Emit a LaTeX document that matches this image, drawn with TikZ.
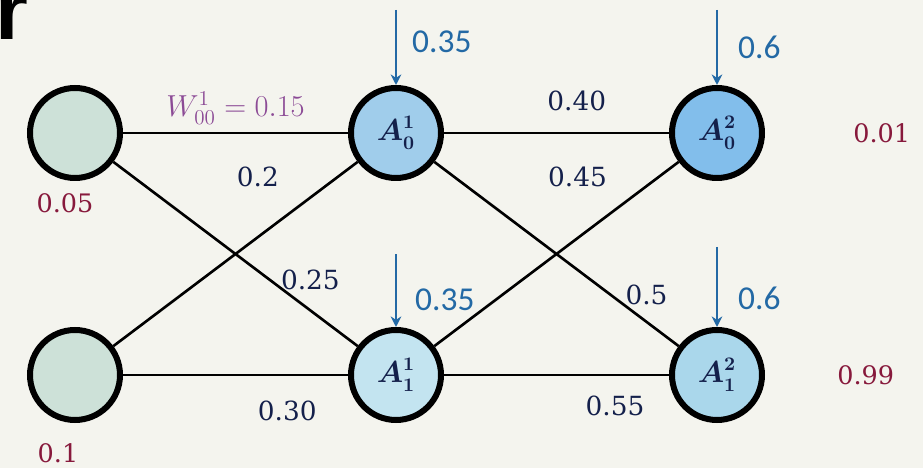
\documentclass[tikz,border=0pt]{standalone}
\usepackage{fontspec}
\usetikzlibrary{arrows.meta, positioning}
\newfontfamily\numfont{DejaVu Serif}
\newfontfamily\biasfont{Carlito}
\newfontfamily\headfont{Liberation Sans}
\definecolor{paper}{RGB}{244,244,238}
\definecolor{navy}{RGB}{20,32,75}
\definecolor{biasblue}{RGB}{35,105,165}
\definecolor{maroon}{RGB}{135,25,60}
\definecolor{mauve}{RGB}{140,75,150}
\definecolor{infill}{RGB}{205,225,216}
\definecolor{hzfill}{RGB}{160,205,235}
\definecolor{hofill}{RGB}{195,228,240}
\definecolor{ozfill}{RGB}{130,190,235}
\definecolor{oofill}{RGB}{170,215,235}

\begin{document}
\begin{tikzpicture}[
  node distance=2.92cm and 4.5cm,
  neuron/.style={draw, circle, line width=0.12cm, minimum size=1.8cm, inner sep=0pt, text=navy, font=\fontsize{16}{19}\selectfont\boldmath},
  weight/.style={inner sep=0pt, text=navy, font=\numfont\fontsize{15}{18}\selectfont},
  value/.style={inner sep=0pt, text=maroon, font=\numfont\fontsize{14.5}{17}\selectfont},
  biaslbl/.style={inner sep=0pt, text=biasblue, font=\biasfont\fontsize{19}{22}\selectfont},
  bias/.style={draw=biasblue, line width=1.4pt, -{Stealth[length=6pt, width=6pt]}},
  link/.style={line width=1.5pt},
  >=Stealth
]
\useasboundingbox (0,0) rectangle (18.46,-9.36);
\fill[paper] (0,0) rectangle (18.46,-9.36);
\node[anchor=base west, inner sep=0pt, font=\headfont\bfseries\fontsize{48}{48}\selectfont] (hd) at (-0.1,-0.8) {r};

% neurons
\node[neuron, fill=infill] (i0) at (1.5,-2.66) {};
\node[neuron, fill=infill, below=of i0] (i1) {};
\node[neuron, fill=hzfill, right=of i0] (h0) {$A^1_0$};
\node[neuron, fill=hofill, right=of i1] (h1) {$A^1_1$};
\node[neuron, fill=ozfill, right=of h0] (o0) {$A^2_0$};
\node[neuron, fill=oofill, right=of h1] (o1) {$A^2_1$};

% weights
\draw[link] (i0) -- (h0) node[midway, above=0.15cm, inner sep=0pt, text=mauve, font=\fontsize{18}{21}\selectfont] {$W^1_{00} = 0.15$};
\draw[link] (i1) -- (h0) node[weight, pos=0.92, left=1.16cm] {0.2};
\draw[link] (i0) -- (h1) node[weight, pos=0.64, right=0.2cm] {0.25};
\draw[link] (i1) -- (h1) node[weight, pos=0.73, below=0.5cm] {0.30};
\draw[link] (h0) -- (o0) node[weight, pos=0.59, above=0.42cm] {0.40};
\draw[link] (h1) -- (o0) node[weight, pos=0.92, left=1.02cm] {0.45};
\draw[link] (h0) -- (o1) node[weight, pos=0.72, right=0.28cm] {0.5};
\draw[link] (h1) -- (o1) node[weight, pos=0.76, below=0.4cm] {0.55};

% biases
\coordinate[above=1.5cm of h0] (bh0);
\coordinate[above=1.45cm of h1] (bh1);
\coordinate[above=1.5cm of o0] (bo0);
\coordinate[above=1.6cm of o1] (bo1);
\draw[bias] (bh0) -- (h0) node[biaslbl, pos=0.43, right=0.3cm] {0.35};
\draw[bias] (bh1) -- (h1) node[biaslbl, pos=0.62, right=0.36cm] {0.35};
\draw[bias] (bo0) -- (o0) node[biaslbl, midway, right=0.4cm] {0.6};
\draw[bias] (bo1) -- (o1) node[biaslbl, pos=0.64, right=0.4cm] {0.6};

% values
\node[value, below=0.24cm of i0, xshift=-0.2cm] (v0) {0.05};
\node[value, below=0.4cm of i1, xshift=-0.34cm] (v1) {0.1};
\node[value, right=1.76cm of o0] (t0) {0.01};
\node[value, right=1.44cm of o1] (t1) {0.99};
\end{tikzpicture}
\end{document}
